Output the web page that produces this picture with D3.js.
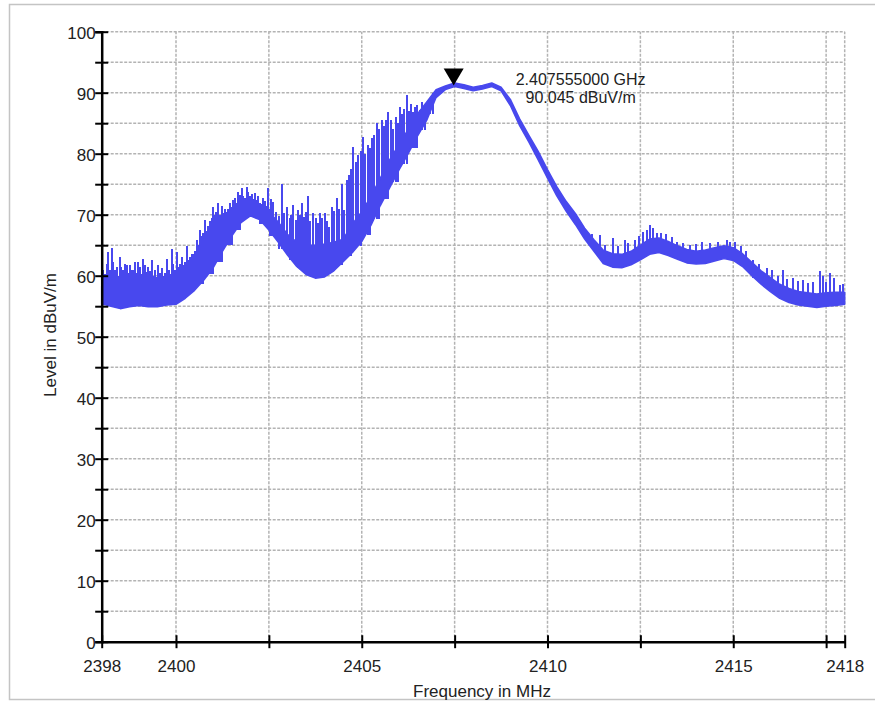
<!DOCTYPE html>
<html>
<head>
<meta charset="utf-8">
<script src="https://cdn.jsdelivr.net/npm/d3@7/dist/d3.min.js"></script>
<style>
  body { margin: 0; background: #fff; }
  text { font-family: "Liberation Sans", Arial, sans-serif; fill: #222; }
</style>
</head>
<body>
<div id="my_dataviz"></div>
<script>
// tick values
var xTicks = [2398, 2400, 2405, 2410, 2415, 2418];
var xMinor = [2402.5, 2407.5, 2412.5, 2417.5];
var yTicks = [0, 10, 20, 30, 40, 50, 60, 70, 80, 90, 100];
var yMinor = [5, 15, 25, 35, 45, 55, 65, 75, 85, 95];

// trace, every 0.25 MHz (lower and upper edge of the solid band)
var freqs = [2398, 2398.25, 2398.5, 2398.75, 2399, 2399.25, 2399.5, 2399.75,
  2400, 2400.25, 2400.5, 2400.75, 2401, 2401.25, 2401.5, 2401.75,
  2402, 2402.25, 2402.5, 2402.75, 2403, 2403.25, 2403.5, 2403.75,
  2404, 2404.25, 2404.5, 2404.75, 2405, 2405.25, 2405.5, 2405.75,
  2406, 2406.25, 2406.5, 2406.75, 2407, 2407.25, 2407.5, 2407.75,
  2408, 2408.25, 2408.5, 2408.75, 2409, 2409.25, 2409.5, 2409.75,
  2410, 2410.25, 2410.5, 2410.75, 2411, 2411.25, 2411.5, 2411.75,
  2412, 2412.25, 2412.5, 2412.75, 2413, 2413.25, 2413.5, 2413.75,
  2414, 2414.25, 2414.5, 2414.75, 2415, 2415.25, 2415.5, 2415.75,
  2416, 2416.25, 2416.5, 2416.75, 2417, 2417.25, 2417.5, 2417.75, 2418];
var lowLevel = [55.4, 55.0, 54.6, 54.9, 55.1, 54.9, 54.9, 55.2,
  55.3, 56.3, 57.6, 59.3, 61.3, 64.0, 66.5, 68.7,
  69.8, 69.2, 67.5, 65.5, 63.4, 61.5, 60.2, 59.6,
  59.8, 60.8, 62.3, 63.8, 65.6, 68.3, 71.5, 74.4,
  77.3, 80.0, 82.9, 85.5, 89.2, 90.5, 91.0, 90.7,
  90.3, 90.6, 91.0, 90.3, 87.9, 84.6, 81.9, 79.0,
  76.0, 73.1, 70.6, 68.4, 66.0, 64.0, 62.0, 61.4,
  61.3, 61.8, 62.6, 63.5, 63.8, 63.3, 62.7, 62.1,
  61.9, 62.0, 62.4, 62.8, 62.5, 61.5, 60.0, 58.6,
  57.4, 56.3, 55.6, 55.2, 55.0, 54.8, 55.0, 55.1, 55.3];
var highLevel = [58.3, 58.3, 58.0, 58.0, 58.2, 58.0, 57.8, 57.8,
  57.8, 58.8, 60.3, 62.3, 64.5, 67.0, 69.5, 71.2,
  72.0, 71.8, 70.5, 68.8, 66.8, 65.5, 65.0, 65.0,
  65.2, 65.5, 66.0, 68.5, 70.5, 73.0, 76.0, 79.0,
  81.5, 84.0, 86.5, 88.5, 90.5, 91.1, 91.6, 91.3,
  90.9, 91.2, 91.6, 90.9, 88.9, 85.7, 83.0, 80.4,
  77.4, 74.6, 72.2, 70.2, 67.8, 65.9, 64.2, 63.6,
  63.5, 64.0, 65.0, 66.0, 66.2, 65.6, 64.9, 64.3,
  64.0, 64.2, 64.6, 64.9, 64.6, 63.6, 62.2, 60.8,
  59.7, 58.6, 57.9, 57.4, 57.2, 57.0, 57.2, 57.3, 57.3];

// single spikes sticking out of the band (frequency, top level)
var spikeFreq = [
  2398.04, 2398.1, 2398.13, 2398.18, 2398.22, 2398.27, 2398.31, 2398.36, 2398.41, 2398.45,
  2398.49, 2398.53, 2398.58, 2398.62, 2398.67, 2398.72, 2398.76, 2398.81, 2398.86, 2398.9,
  2398.95, 2398.99, 2399.04, 2399.08, 2399.12, 2399.17, 2399.21, 2399.25, 2399.3, 2399.35,
  2399.4, 2399.44, 2399.48, 2399.52, 2399.57, 2399.62, 2399.66, 2399.7, 2399.75, 2399.8,
  2399.84, 2399.88, 2399.93, 2399.97, 2400.02, 2400.07, 2400.11, 2400.15, 2400.2, 2400.24,
  2400.29, 2400.34, 2400.38, 2400.42, 2400.47, 2400.51, 2400.56, 2400.6, 2400.65, 2400.7,
  2400.74, 2400.78, 2400.82, 2400.87, 2400.92, 2400.96, 2401.0, 2401.05, 2401.09, 2401.14,
  2401.19, 2401.23, 2401.27, 2401.32, 2401.36, 2401.41, 2401.46, 2401.5, 2401.54, 2401.59,
  2401.63, 2401.68, 2401.72, 2401.77, 2401.81, 2401.86, 2401.9, 2401.95, 2401.99, 2402.04,
  2402.08, 2402.12, 2402.17, 2402.21, 2402.26, 2402.3, 2402.35, 2402.4, 2402.44, 2402.48,
  2402.53, 2402.57, 2402.62, 2402.7, 2402.78, 2402.85, 2402.92, 2402.98, 2403.06, 2403.1,
  2403.16, 2403.22, 2403.29, 2403.33, 2403.38, 2403.45, 2403.5, 2403.56, 2403.62, 2403.7,
  2403.76, 2403.82, 2403.88, 2403.94, 2404.01, 2404.07, 2404.13, 2404.19, 2404.25, 2404.33,
  2404.4, 2404.46, 2404.52, 2404.59, 2404.65, 2404.71, 2404.77, 2404.84, 2404.91, 2404.97,
  2405.04, 2405.1, 2405.16, 2405.22, 2405.27, 2405.33, 2405.4, 2405.46, 2405.54, 2405.6,
  2405.65, 2405.71, 2405.78, 2405.85, 2405.92, 2405.97, 2406.03, 2406.09, 2406.15, 2406.21,
  2406.27, 2406.33, 2406.38, 2406.43, 2406.5, 2406.57, 2406.63, 2406.7, 2406.77, 2406.85,
  2406.93,
  2411.2, 2411.41, 2411.55, 2411.77, 2411.9, 2412.08, 2412.17, 2412.35, 2412.45, 2412.58,
  2412.68, 2412.76, 2412.85, 2412.94, 2413.05, 2413.2, 2413.35, 2413.48, 2413.65, 2413.84,
  2414.0, 2414.15, 2414.38, 2414.6, 2414.82, 2414.91, 2415.05, 2415.2, 2415.35, 2415.54,
  2415.7, 2415.9, 2416.05, 2416.2, 2416.35, 2416.45, 2416.62, 2416.75, 2416.89, 2417.0,
  2417.15, 2417.34, 2417.42, 2417.5, 2417.6, 2417.7, 2417.87, 2417.95];
var spikeTop = [
  60.9, 60.2, 62.0, 63.9, 61.0, 64.5, 62.3, 60.9, 61.5, 60.0,
  63.0, 61.4, 60.9, 62.0, 61.7, 60.5, 61.8, 60.9, 61.0, 62.3,
  60.5, 62.3, 61.4, 60.2, 62.7, 61.8, 60.6, 61.5, 60.8, 62.5,
  60.0, 61.0, 59.8, 61.7, 60.5, 61.2, 60.0, 60.5, 62.8, 61.0,
  60.3, 64.3, 62.0, 61.0, 63.9, 61.5, 62.0, 63.1, 61.7, 62.2,
  64.8, 62.5, 63.0, 63.5, 63.6, 64.0, 65.9, 65.0, 67.5, 66.5,
  67.0, 69.1, 67.3, 68.2, 69.0, 69.5, 71.3, 70.0, 70.5, 71.9,
  70.0, 71.5, 70.2, 71.0, 70.5, 71.0, 72.0, 71.2, 72.4, 72.8,
  72.0, 73.8, 73.2, 74.3, 73.0, 72.8, 74.6, 73.8, 73.0, 73.4,
  72.5, 73.5, 72.4, 73.0, 72.0, 71.8, 72.7, 72.2, 71.5, 74.3,
  71.0, 72.6, 72.1, 70.5, 69.8, 75.1, 70.2, 71.3, 69.5, 70.0,
  71.6, 69.2, 70.8, 70.0, 71.9, 69.6, 70.4, 73.0, 69.0, 70.2,
  69.4, 68.6, 70.2, 69.5, 70.2, 69.0, 68.0, 71.3, 70.6, 72.7,
  71.0, 75.1, 70.8, 75.7, 76.5, 77.5, 81.1, 78.6, 79.8, 80.5,
  82.8, 80.0, 81.5, 81.0, 82.5, 83.0, 85.0, 84.0, 85.5, 84.5,
  85.6, 86.9, 85.5, 84.1, 86.0, 85.0, 87.7, 86.5, 87.3, 89.6,
  87.0, 88.2, 86.8, 87.7, 88.0, 87.2, 88.5, 86.1, 88.6, 89.0,
  89.9,
  66.8, 66.7, 65.0, 66.1, 64.8, 65.9, 65.3, 65.8, 66.5, 67.2,
  67.5, 68.3, 67.8, 67.0, 67.0, 66.8, 66.3, 65.6, 65.4, 65.0,
  65.2, 65.5, 65.3, 65.6, 65.9, 65.6, 65.6, 64.8, 64.0, 62.6,
  62.0, 61.2, 61.0, 60.0, 60.9, 59.4, 59.6, 59.2, 59.3, 58.8,
  59.0, 60.7, 59.9, 59.0, 60.4, 59.6, 58.4, 58.6];

// marker
var markerFreq = 2407.555;
var markerLevel = 90.045;
var markerLines = ["2.407555000 GHz", "90.045 dBuV/m"];

var width = 875, height = 702;
var traceColor = "#4848ee";

var svg = d3.select("#my_dataviz")
    .append("svg")
    .attr("width", width)
    .attr("height", height);

// outer frame
svg.append("rect")
    .attr("x", 9.5).attr("y", 4.5)
    .attr("width", 900).attr("height", 695)
    .attr("fill", "none")
    .attr("stroke", "#c4c4c4")
    .attr("stroke-width", 1.5);

var x = d3.scaleLinear()
    .domain([2398, 2418])
    .range([101.7, 844.7]);
var y = d3.scaleLinear()
    .domain([0, 100])
    .range([641.7, 31.7]);

// grid
var grid = svg.append("g")
    .attr("stroke", "#b3b3b3")
    .attr("stroke-width", 1.5)
    .attr("stroke-dasharray", "3,1.5");
grid.selectAll(".hg")
    .data(yTicks.concat(yMinor).filter(function(d) { return d > 0; }))
    .enter().append("line")
    .attr("x1", x(2398)).attr("x2", x(2418))
    .attr("y1", function(d) { return y(d); })
    .attr("y2", function(d) { return y(d); });
grid.selectAll(".vg")
    .data(xTicks.concat(xMinor).filter(function(d) { return d > 2398; }))
    .enter().append("line")
    .attr("y1", y(0)).attr("y2", y(100))
    .attr("x1", function(d) { return x(d); })
    .attr("x2", function(d) { return x(d); });

// trace band
var band = freqs.map(function(f, i) { return {f: f, lo: lowLevel[i], hi: highLevel[i]}; });
svg.append("path")
    .datum(band)
    .attr("fill", traceColor)
    .attr("stroke", traceColor)
    .attr("stroke-width", 1.5)
    .attr("stroke-linejoin", "round")
    .attr("d", d3.area()
        .x(function(d) { return x(d.f); })
        .y0(function(d) { return y(d.lo); })
        .y1(function(d) { return y(d.hi); }));

// spikes, from inside the band up to the read top
svg.append("g")
    .selectAll("line")
    .data(spikeFreq)
    .enter()
    .append("line")
    .attr("stroke", traceColor)
    .attr("stroke-width", 2)
    .attr("shape-rendering", "crispEdges")
    .attr("x1", function(d) { return x(d); })
    .attr("x2", function(d) { return x(d); })
    .attr("y1", function(d, i) { return y(spikeTop[i]); })
    .attr("y2", function(d) {
        var j = Math.min(d3.bisectLeft(freqs, d), freqs.length - 1);
        return y(Math.min(lowLevel[j], lowLevel[Math.max(j - 1, 0)]) + 1);
    });

// Y axis
var yAxis = svg.append("g")
    .attr("transform", "translate(" + x(2398) + ",0)")
    .call(d3.axisLeft(y).tickValues(yTicks.concat(yMinor)).tickSize(6.5).tickFormat(function(d) {
        return yTicks.indexOf(d) >= 0 ? d : "";
    }));
yAxis.select(".domain").attr("stroke", "#000").attr("stroke-width", 2.5);
yAxis.selectAll(".tick line").attr("x1", 6.5).attr("stroke-width", 2);
yAxis.selectAll(".tick text")
    .attr("x", -6).attr("dy", "7px")
    .style("font-size", "17px").attr("fill", "#222");

// X axis
var xAxis = svg.append("g")
    .attr("transform", "translate(0," + y(0) + ")")
    .call(d3.axisBottom(x).tickValues(xTicks.concat(xMinor)).tickSize(6.5).tickSizeOuter(0).tickFormat(function(d) {
        return xTicks.indexOf(d) >= 0 ? d : "";
    }));
xAxis.select(".domain").attr("stroke", "#000").attr("stroke-width", 2.5);
xAxis.selectAll(".tick line").attr("y1", -6.5).attr("stroke-width", 2);
xAxis.selectAll(".tick text")
    .attr("y", 30).attr("dy", 0)
    .style("font-size", "17px").attr("fill", "#222");

// axis titles
svg.append("text")
    .attr("transform", "translate(482,697)")
    .style("text-anchor", "middle")
    .style("font-size", "17px")
    .text("Frequency in MHz");

svg.append("text")
    .attr("transform", "translate(56,335) rotate(-90)")
    .style("text-anchor", "middle")
    .style("font-size", "17px")
    .text("Level in dBuV/m");

// peak marker
var mx = x(markerFreq) - 3, my = y(markerLevel) - 7;
svg.append("path")
    .attr("d", "M" + (mx - 10) + "," + (my - 17) + "L" + (mx + 10) + "," + (my - 17) + "L" + mx + "," + my + "Z")
    .attr("fill", "#000");
svg.append("g")
    .selectAll("text")
    .data(markerLines)
    .enter()
    .append("text")
    .attr("x", mx + 127)
    .attr("y", function(d, i) { return my - 0.5 + i * 18; })
    .style("text-anchor", "middle")
    .style("font-size", "16px")
    .text(function(d) { return d; });
</script>
</body>
</html>
